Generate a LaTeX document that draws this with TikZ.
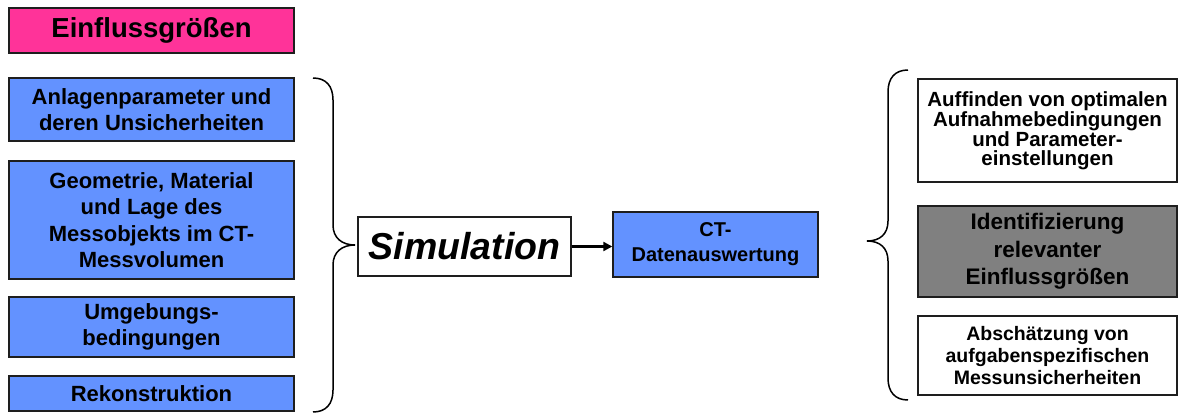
\documentclass[tikz,border=0pt]{standalone}
\usepackage{fontspec}
\setmainfont{Liberation Sans}
\usetikzlibrary{arrows.meta}
\definecolor{pinkfill}{RGB}{255,51,153}
\definecolor{bluefill}{RGB}{99,146,255}
\definecolor{grayfill}{RGB}{128,128,128}
\definecolor{edge}{RGB}{30,30,30}
\tikzset{
  box/.style={draw=edge, line width=1.4pt, rectangle, align=center, inner sep=0pt, font=\bfseries},
  leftbox/.style={box, fill=bluefill, minimum width=285pt, font=\bfseries\fontsize{22}{26.5}\selectfont},
  rightbox/.style={box, fill=white, minimum width=259pt},
  brace/.style={line width=1.5pt, black},
  conn/.style={line width=2.2pt, -{Triangle[length=9pt,width=9pt]}}
}
\begin{document}
\begin{tikzpicture}[x=1pt,y=-1pt]
\useasboundingbox (0,0) rectangle (1178,414);
\node[box, fill=pinkfill, minimum width=285pt, minimum height=45pt, font=\bfseries\fontsize{27.5}{30}\selectfont] (ein) at (151.5,30.5) {Einflussgrößen};
\node[leftbox, minimum height=63pt] (anl) at (151.5,109.5) {Anlagenparameter und\\deren Unsicherheiten};
\node[leftbox, minimum height=118pt] (geo) at (151.5,220) {Geometrie, Material\\und Lage des\\Messobjekts im CT-\\Messvolumen};
\node[leftbox, minimum height=60pt] (umg) at (151.5,327) {Umgebungs-\\bedingungen};
\node[leftbox, minimum height=35pt] (rek) at (151.5,393.5) {Rekonstruktion};
\node[box, fill=white, minimum width=213pt, minimum height=59pt, font=\bfseries\itshape\fontsize{37.5}{40}\selectfont] (sim) at (464.5,246.5) {Simulation};
\node[box, fill=bluefill, minimum width=205pt, minimum height=65pt, font=\bfseries\fontsize{20}{25}\selectfont] (ct) at (715.5,244.5) {CT-\\Datenauswertung};
\node[rightbox, minimum height=103pt, font=\bfseries\fontsize{20.5}{18.8}\selectfont] (auf) at (1047.5,130.5) {Auffinden von optimalen\\Aufnahmebedingungen\\und Parameter-\\einstellungen};
\node[rightbox, fill=grayfill, minimum height=91pt, font=\bfseries\fontsize{22.5}{27.5}\selectfont] (idf) at (1047.5,251.5) {Identifizierung\\relevanter\\Einflussgrößen};
\node[rightbox, minimum height=79pt, font=\bfseries\fontsize{19.5}{21.7}\selectfont] (abs) at (1047.5,355.5) {Abschätzung von\\aufgabenspezifischen\\Messunsicherheiten};
\draw[conn] (sim.east) -- (ct.west |- sim.east);
% left brace
\draw[brace] (313,78) .. controls (326,78) and (333,86) .. (333,100) -- (333,225)
  .. controls (333,238) and (342,245) .. (355,245)
  .. controls (342,245) and (333,252) .. (333,265) -- (333,390)
  .. controls (333,404) and (326,412) .. (313,412);
% right brace
\draw[brace] (908,70) .. controls (895,70) and (888,78) .. (888,92) -- (888,221)
  .. controls (888,234) and (880,241) .. (867,241)
  .. controls (880,241) and (888,248) .. (888,261) -- (888,378)
  .. controls (888,392) and (895,400) .. (908,400);
\end{tikzpicture}
\end{document}
